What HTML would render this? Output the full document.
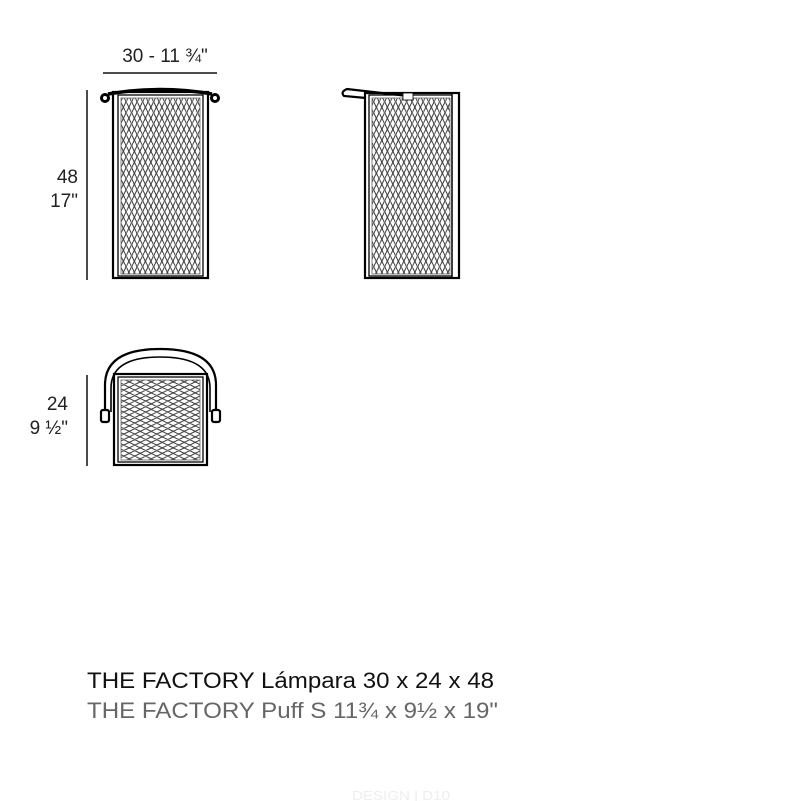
<!DOCTYPE html>
<html><head><meta charset="utf-8"><style>
html,body{margin:0;padding:0;background:#fff;}
svg{display:block;}
text{font-family:"Liberation Sans",Arial,sans-serif;}
</style></head><body>
<svg width="801" height="801" viewBox="0 0 801 801" xmlns="http://www.w3.org/2000/svg">
<defs>
<pattern id="mv" width="5.5" height="11" patternUnits="userSpaceOnUse">
<rect width="5.5" height="11" fill="#fff"/>
<path d="M1 0 C-0.5 2.75 -0.5 2.75 1 5.5 C2.5 8.25 2.5 8.25 1 11" fill="none" stroke="#444" stroke-width="1.1"/>
<path d="M3.75 0 C5.25 2.75 5.25 2.75 3.75 5.5 C2.25 8.25 2.25 8.25 3.75 11" fill="none" stroke="#444" stroke-width="1.1"/>
</pattern>
<pattern id="mh" width="11" height="5.5" patternUnits="userSpaceOnUse">
<rect width="11" height="5.5" fill="#fff"/>
<path d="M0 1 C2.75 -0.5 2.75 -0.5 5.5 1 C8.25 2.5 8.25 2.5 11 1" fill="none" stroke="#444" stroke-width="1.1"/>
<path d="M0 3.75 C2.75 5.25 2.75 5.25 5.5 3.75 C8.25 2.25 8.25 2.25 11 3.75" fill="none" stroke="#444" stroke-width="1.1"/>
</pattern>
</defs>

<text x="165" y="62" font-size="19" text-anchor="middle" fill="#222">30 - 11 ¾"</text>
<line x1="103" y1="73" x2="217" y2="73" stroke="#111" stroke-width="1.5"/>
<line x1="87" y1="90" x2="87" y2="280" stroke="#111" stroke-width="1.5"/>
<text x="78" y="183" font-size="19" text-anchor="end" fill="#222">48</text>
<text x="78" y="207" font-size="19" text-anchor="end" fill="#222">17"</text>

<g fill="none" stroke="#000">
<rect x="113" y="92" width="95" height="186" stroke-width="2.2"/>
<rect x="118" y="95" width="85" height="181" stroke-width="1.3"/>
<rect x="121" y="98" width="79" height="176" fill="url(#mv)" stroke="#666" stroke-width="0.8"/>
<path d="M108 94 Q160 85 212 94" stroke-width="3.5"/>
<circle cx="105" cy="98" r="3.5" stroke-width="3"/>
<circle cx="215" cy="98" r="3.5" stroke-width="3"/>
</g>

<g fill="none" stroke="#000">
<rect x="365" y="93" width="94" height="185" stroke-width="2.2"/>
<line x1="452" y1="93" x2="452" y2="278" stroke-width="1.3"/>
<rect x="369" y="95" width="83" height="181" stroke-width="1.3"/>
<rect x="372" y="98" width="78" height="176" fill="url(#mv)" stroke="#666" stroke-width="0.8"/>
<path d="M408 96 L347 89 Q340 92 344 96 L366 98" stroke-width="2.2"/>
<rect x="403" y="93" width="10" height="7" fill="#fff" stroke-width="0.8"/>
</g>

<line x1="87" y1="375" x2="87" y2="466" stroke="#111" stroke-width="1.5"/>
<text x="68" y="410" font-size="19" text-anchor="end" fill="#222">24</text>
<text x="68" y="434" font-size="19" text-anchor="end" fill="#222">9 ½"</text>
<g fill="none" stroke="#000">
<path d="M105 412 L105 385 Q105 349 160 349 Q216 349 216 385 L216 412" stroke-width="2.2"/>
<path d="M111 412 L111 388 Q111 357 160 357 Q210 357 210 388 L210 412" stroke-width="1.6"/>
<rect x="101" y="410" width="8" height="12" rx="2" stroke-width="2.2" fill="#fff"/>
<rect x="212" y="410" width="8" height="12" rx="2" stroke-width="2.2" fill="#fff"/>
<rect x="114" y="374" width="93" height="91" stroke-width="2.2" fill="#fff"/>
<rect x="118" y="377" width="85" height="85" stroke-width="1.3"/>
<rect x="121" y="380" width="79" height="80" fill="url(#mh)" stroke="#666" stroke-width="0.8"/>
</g>

<text x="87" y="688" font-size="22" fill="#111" textLength="407" lengthAdjust="spacingAndGlyphs">THE FACTORY Lámpara 30 x 24 x 48</text>
<text x="87" y="718" font-size="22" fill="#666" textLength="411" lengthAdjust="spacingAndGlyphs">THE FACTORY Puff S 11¾ x 9½ x 19"</text>
<text x="352" y="800" font-size="13" fill="#eee" textLength="98" lengthAdjust="spacingAndGlyphs">DESIGN | D10</text>
</svg>
</body></html>
